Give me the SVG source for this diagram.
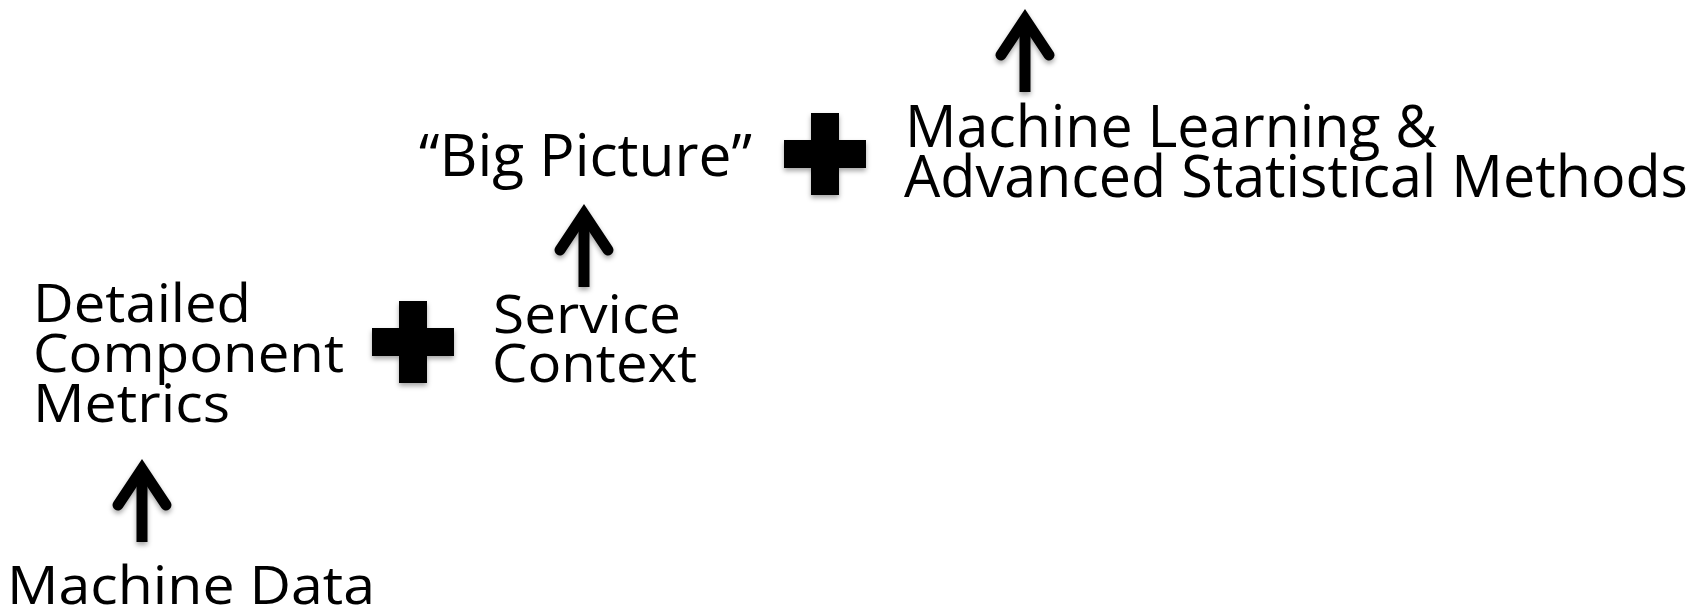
<svg xmlns="http://www.w3.org/2000/svg" width="1694" height="613" viewBox="0 0 1694 613">
  <defs>
    <style>
      .lbl { font-family: "Open Sans", "Noto Sans", "Liberation Sans", sans-serif; fill: #000; }
      .sm { font-size: 53px; }
      .lg { font-size: 58px; }
      .shaft { stroke: #000; stroke-width: 11; stroke-linecap: butt; fill: none; }
      .head { stroke: #000; stroke-width: 11; stroke-linecap: round; stroke-linejoin: miter; fill: none; }
    </style>
    <filter id="shadow" x="-30%" y="-30%" width="160%" height="170%">
      <feDropShadow dx="0" dy="3" stdDeviation="2.5" flood-color="#000" flood-opacity="0.35"/>
    </filter>
    <!-- plus sign centred on the origin -->
    <path id="plus" d="M-14,-41 h28 v27 h27 v28 h-27 v27 h-28 v-27 h-27 v-28 h27 z"/>
  </defs>

  <rect width="1694" height="613" fill="#fff"/>

  <g id="machine-data">
    <text class="lbl sm" x="7" y="604" textLength="368" lengthAdjust="spacingAndGlyphs">Machine Data</text>
  </g>

  <g id="component-metrics">
    <text class="lbl sm" x="33" y="322" textLength="218" lengthAdjust="spacingAndGlyphs">Detailed</text>
    <text class="lbl sm" x="33" y="372" textLength="311" lengthAdjust="spacingAndGlyphs">Component</text>
    <text class="lbl sm" x="33" y="422" textLength="197" lengthAdjust="spacingAndGlyphs">Metrics</text>
  </g>

  <g id="plus-lower" filter="url(#shadow)">
    <use href="#plus" x="413" y="342"/>
  </g>

  <g id="service-context">
    <text class="lbl sm" x="493" y="333" textLength="188" lengthAdjust="spacingAndGlyphs">Service</text>
    <text class="lbl sm" x="492" y="382" textLength="205" lengthAdjust="spacingAndGlyphs">Context</text>
  </g>

  <g id="big-picture">
    <text class="lbl lg" x="419" y="176" textLength="333" lengthAdjust="spacingAndGlyphs">“Big Picture”</text>
  </g>

  <g id="plus-upper" filter="url(#shadow)">
    <use href="#plus" x="825" y="154"/>
  </g>

  <g id="ml-methods">
    <text class="lbl lg" x="905" y="147" textLength="532" lengthAdjust="spacingAndGlyphs">Machine Learning &amp;</text>
    <text class="lbl lg" x="904" y="197" textLength="784" lengthAdjust="spacingAndGlyphs">Advanced Statistical Methods</text>
  </g>

  <g id="connectors" filter="url(#shadow)">
    <!-- Machine Data -> Detailed Component Metrics -->
    <line class="shaft" x1="142" y1="542" x2="142" y2="472"/>
    <polyline class="head" points="118,505 142,469 166,505"/>
    <!-- Service Context -> Big Picture -->
    <line class="shaft" x1="584" y1="287" x2="584" y2="217"/>
    <polyline class="head" points="560,250 584,214 608,250"/>
    <!-- Methods -> upward -->
    <line class="shaft" x1="1025" y1="92" x2="1025" y2="22"/>
    <polyline class="head" points="1001,55 1025,19 1049,55"/>
  </g>
</svg>
